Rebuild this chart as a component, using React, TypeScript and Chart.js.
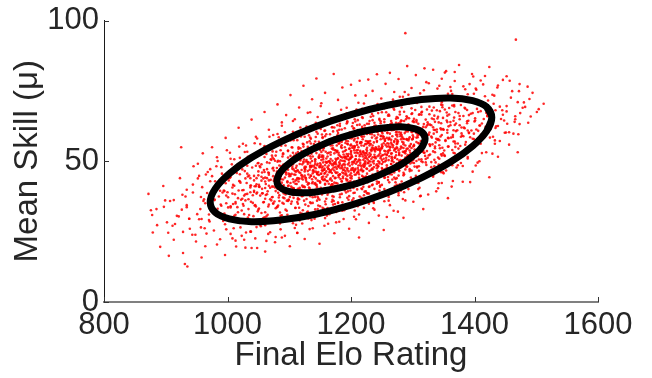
import React, { useEffect, useRef } from "react";
import { Chart, registerables } from "chart.js";

Chart.register(...registerables);

// ---- Data ----
const xTickValues = [800, 1000, 1200, 1400, 1600];
const yTickValues = [0, 50, 100];
const xAxisTitle = "Final Elo Rating";
const yAxisTitle = "Mean Skill (\u03bc)";

// Player samples: [final Elo rating, mean skill μ], part 1
const playerSamplesA: [number, number][] = [
  [886,27.3],[897,33.8],
  [904,24.6],[913,36.2],[921,30.4],
  [927,38.1],[931,13.5],[938,29.6],[944,41.7],[948,23.9],
  [951,31.2],[954,44.8],[957,26.5],[961,35.9],[964,19.8],[967,38.7],[970,29.1],[972,47.2],[974,33.4],
  [976,36.8],[978,25.4],[980,42.9],[982,31.7],[984,50.1],[986,37.5],[988,22.3],[990,34.2],[991,45.6],[993,28.8],[995,39.4],[996,16.7],[998,35.1],[999,53.9],
  [1001,37.2],[1002,29.4],[1004,44.1],[1005,33.6],[1007,48.9],[1008,38.5],[1010,26.2],[1011,41.3],[1013,35.0],[1014,19.7],[1015,45.8],[1017,31.9],[1018,39.6],[1019,55.2],[1020,28.1],[1021,42.4],[1022,36.3],[1023,23.5],[1024,47.1],[1025,34.8],
  [1026,39.8],[1027,31.2],[1028,46.5],[1029,36.1],[1030,24.7],[1031,42.3],[1032,38.4],[1033,51.6],[1034,33.0],[1035,44.9],[1036,28.3],[1037,40.7],[1038,35.6],[1039,19.2],[1040,47.8],[1041,37.9],[1042,30.5],[1043,43.2],[1044,56.4],[1045,34.4],[1046,41.1],[1047,26.6],[1048,38.9],[1049,49.3],[1049,32.2],[1050,45.0],[1027,22.1],[1043,39.5],
  [1051,41.6],[1051,33.2],[1052,48.3],[1053,37.8],[1054,26.9],[1055,44.5],[1056,40.2],[1057,53.1],[1058,35.4],[1059,46.9],[1060,30.1],[1061,42.8],[1062,38.0],[1063,21.7],[1064,49.6],[1065,39.3],[1066,33.9],[1067,45.2],[1068,58.7],[1069,36.5],[1070,43.4],[1071,28.4],[1072,41.0],[1073,51.3],[1074,35.0],[1074,47.7],[1052,40.9],[1055,31.6],[1058,43.9],[1061,36.7],[1064,44.0],[1066,24.2],[1069,40.6],[1071,50.5],[1073,37.3],[1060,55.4],[1067,34.6],[1056,46.0],
  [1075,43.1],[1076,35.7],[1077,50.2],[1078,39.4],[1079,28.6],[1080,46.3],[1081,42.0],[1082,55.8],[1083,37.1],[1084,48.5],[1085,31.8],[1086,44.6],[1087,40.3],[1088,22.9],[1089,51.7],[1090,41.2],[1091,34.9],[1092,47.4],[1093,60.3],[1094,38.2],[1095,45.3],[1096,29.7],[1097,42.9],[1098,53.6],[1099,36.4],[1099,49.0],[1076,43.8],[1078,33.3],[1080,45.7],[1082,38.8],[1084,44.9],[1086,25.8],[1088,42.4],[1090,52.8],[1092,39.0],[1094,57.2],[1096,36.0],[1098,47.9],[1077,40.7],[1081,49.8],[1085,41.5],[1089,35.2],[1093,44.2],[1097,31.0],[1079,53.4],[1083,43.7],[1087,46.8],[1091,38.6],
  [1100,44.7],[1101,37.3],[1102,51.9],[1103,41.0],[1104,30.2],[1105,48.0],[1106,43.6],[1107,57.5],[1108,38.7],[1109,50.1],[1110,33.4],[1111,46.3],[1112,41.9],[1113,24.5],[1114,53.3],[1115,42.8],[1116,36.5],[1117,49.0],[1118,62.0],[1119,39.8],[1120,46.9],[1121,31.3],[1122,44.5],[1123,55.2],[1124,38.0],[1124,50.6],[1101,45.4],[1103,34.9],[1105,47.3],[1107,40.4],[1109,46.5],[1111,27.4],[1113,44.0],[1115,54.4],[1117,40.6],[1119,58.8],[1121,37.6],[1123,49.5],[1102,42.3],[1106,51.4],[1110,43.1],[1114,36.8],[1118,45.8],[1122,32.6],[1104,55.0],[1108,45.3],[1112,48.4],[1116,40.2],[1120,43.9],[1100,39.1],[1125,47.6],[1113,35.5],[1119,51.2],[1106,28.0],[1111,52.7],[1116,46.1],[1121,41.4],[1103,48.7],
  [1125,46.4],[1126,39.0],[1127,53.6],[1128,42.7],[1129,31.9],[1130,49.7],[1131,45.3],[1132,59.2],[1133,40.4],[1134,51.8],[1135,35.1],[1136,48.0],[1137,43.6],[1138,26.2],[1139,55.0],[1140,44.5],[1141,38.2],[1142,50.7],[1143,63.7],[1144,41.5],[1145,48.6],[1146,33.0],[1147,46.2],[1148,56.9],[1149,39.7],[1149,52.3],[1126,47.1],[1128,36.6],[1130,49.0],[1132,42.1],[1134,48.2],[1136,29.1],[1138,45.7],[1140,56.1],[1142,42.3],[1144,60.5],[1146,39.3],[1148,51.2],[1127,44.0],[1131,53.1],[1135,44.8],[1139,38.5],[1143,47.5],[1147,34.3],[1129,56.7],[1133,47.0],[1137,50.1],[1141,41.9],[1145,45.6],[1125,40.8],[1150,49.3],[1138,37.2],[1144,52.9],[1131,29.7],[1136,54.4],[1141,47.8],[1146,43.1],[1128,50.4],[1133,44.2],[1139,46.9],[1143,39.9],[1148,45.1],[1130,41.7],[1135,58.0],[1140,48.4],[1145,36.0],[1149,47.9],[1127,49.9],
  [1150,48.0],[1151,40.6],[1152,55.2],[1153,44.3],[1154,33.5],[1155,51.3],[1156,46.9],[1157,60.8],[1158,42.0],[1159,53.4],[1160,36.7],[1161,49.6],[1162,45.2],[1163,27.8],[1164,56.6],[1165,46.1],[1166,39.8],[1167,52.3],[1168,65.3],[1169,43.1],[1170,50.2],[1171,34.6],[1172,47.8],[1173,58.5],[1174,41.3],[1174,53.9],[1151,48.7],[1153,38.2],[1155,50.6],[1157,43.7],[1159,49.8],[1161,30.7],[1163,47.3],[1165,57.7],[1167,43.9],[1169,62.1],[1171,40.9],[1173,52.8],[1152,45.6],[1156,54.7],[1160,46.4],[1164,40.1],[1168,49.1],[1172,35.9],[1154,58.3],[1158,48.6],[1162,51.7],[1166,43.5],[1170,47.2],[1150,42.4],[1175,50.9],[1163,38.8],[1169,54.5],[1156,31.3],[1161,56.0],[1166,49.4],[1171,44.7],[1153,52.0],[1158,45.8],[1164,48.5],[1168,41.5],[1173,46.7],[1155,43.3],[1160,59.6],[1165,50.0],[1170,37.6],[1174,49.5],[1152,51.5],[1157,47.4],[1162,42.9],[1167,55.6],[1159,39.4],[1172,48.9],[1154,46.5],
  [1175,49.7],[1176,42.3],[1177,56.9],[1178,46.0],[1179,35.2],[1180,53.0],[1181,48.6],[1182,62.5],[1183,43.7],[1184,55.1],[1185,38.4],[1186,51.3],[1187,46.9],[1188,29.5],[1189,58.3],[1190,47.8],[1191,41.5],[1192,54.0],[1193,67.0],[1194,44.8],[1195,51.9],[1196,36.3],[1197,49.5],[1198,60.2],[1199,43.0],[1199,55.6],[1176,50.4],[1178,39.9],[1180,52.3],[1182,45.4],[1184,51.5],[1186,32.4],[1188,49.0],[1190,59.4],[1192,45.6],[1194,63.8],[1196,42.6],[1198,54.5],[1177,47.3],[1181,56.4],[1185,48.1],[1189,41.8],[1193,50.8],[1197,37.6],[1179,60.0],[1183,50.3],[1187,53.4],[1191,45.2],[1195,48.9],[1175,44.1],[1200,52.6],[1188,40.5],[1194,56.2],[1181,33.0],[1186,57.7],[1191,51.1],[1196,46.4],[1178,53.7],[1183,47.5],[1189,50.2],[1193,43.2],[1198,48.4],[1180,45.0],[1185,61.3],[1190,51.7],[1195,39.3],[1199,51.2],[1177,53.2],[1182,49.1],[1187,44.6],[1192,57.3],[1184,41.1],[1197,50.6],[1179,48.2],[1186,46.0],[1190,55.0],[1194,47.0],[1176,45.8],
  [1200,51.3],[1201,43.9],[1202,58.5],[1203,47.6],[1204,36.8],[1205,54.6],[1206,50.2],[1207,64.1],[1208,45.3],[1209,56.7],[1210,40.0],[1211,52.9],[1212,48.5],[1213,31.1],[1214,59.9],[1215,49.4],[1216,43.1],[1217,55.6],[1218,68.6],[1219,46.4],[1220,53.5],[1221,37.9],[1222,51.1],[1223,61.8],[1224,44.6],[1224,57.2],[1201,52.0],[1203,41.5],[1205,53.9],[1207,47.0],[1209,53.1],[1211,34.0],[1213,50.6],[1215,61.0],[1217,47.2],[1219,65.4],[1221,44.2],[1223,56.1],[1202,48.9],[1206,58.0],[1210,49.7],[1214,43.4],[1218,52.4],[1222,39.2],[1204,61.6],[1208,51.9],[1212,55.0],[1216,46.8],[1220,50.5],[1200,45.7],[1225,54.2],[1213,42.1],[1219,57.8],[1206,34.6],[1211,59.3],[1216,52.7],[1221,48.0],[1203,55.3],[1208,49.1],[1214,51.8],[1218,44.8],[1223,50.0],[1205,46.6],[1210,62.9],[1215,53.3],[1220,40.9],[1224,52.8],[1202,54.8],[1207,50.7],[1212,46.2],[1217,58.9],[1209,42.7],[1222,52.2],[1204,49.8],[1211,47.6],[1215,56.6],[1219,48.6],[1201,47.4],
  [1225,53.0],[1226,45.6],[1227,60.2],[1228,49.3],[1229,38.5],[1230,56.3],[1231,51.9],[1232,65.8],[1233,47.0],[1234,58.4],[1235,41.7],[1236,54.6],[1237,50.2],[1238,32.8],[1239,61.6],[1240,51.1],[1241,44.8],[1242,57.3],[1243,70.3],[1244,48.1],[1245,55.2],[1246,39.6],[1247,52.8],[1248,63.5],[1249,46.3],[1249,58.9],[1226,53.7],[1228,43.2],[1230,55.6],[1232,48.7],[1234,54.8],[1236,35.7],[1238,52.3],[1240,62.7],[1242,48.9],[1244,67.1],[1246,45.9],[1248,57.8],[1227,50.6],[1231,59.7],[1235,51.4],[1239,45.1],[1243,54.1],[1247,40.9],[1229,63.3],[1233,53.6],[1237,56.7],[1241,48.5],[1245,52.2],[1225,47.4],[1250,55.9],[1238,43.8],[1244,59.5],[1231,36.3],[1236,61.0],[1241,54.4],[1246,49.7],[1228,57.0],[1233,50.8],[1239,53.5],[1243,46.5],[1248,51.7],[1230,48.3],[1235,64.6],[1240,55.0],[1245,42.6],[1249,54.5],[1227,56.5],[1232,52.4],[1237,47.9],[1242,60.6],[1234,44.4],[1247,53.9],[1229,51.5],
  [1250,54.6],[1251,47.2],[1252,61.8],[1253,50.9],[1254,40.1],[1255,57.9],[1256,53.5],[1257,67.4],[1258,48.6],[1259,60.0],[1260,43.3],[1261,56.2],[1262,51.8],[1263,34.4],[1264,63.2],[1265,52.7],[1266,46.4],[1267,58.9],[1268,71.9],[1269,49.7],[1270,56.8],[1271,41.2],[1272,54.4],[1273,65.1],[1274,47.9],[1274,60.5],[1251,55.3],[1253,44.8],[1255,57.2],[1257,50.3],[1259,56.4],[1261,37.3],[1263,53.9],[1265,64.3],[1267,50.5],[1269,68.7],[1271,47.5],[1273,59.4],[1252,52.2],[1256,61.3],[1260,53.0],[1264,46.7],[1268,55.7],[1272,42.5],[1254,64.9],[1258,55.2],[1262,58.3],[1266,50.1],[1270,53.8],[1250,49.0],[1275,57.5],[1263,45.4],[1269,61.1],[1256,37.9],[1261,62.6],[1266,56.0],[1271,51.3],[1253,58.6],[1258,52.4],[1264,55.1],[1268,48.1],[1273,53.3],[1255,49.9],[1260,66.2],[1265,56.6],[1270,44.2],[1274,56.1],[1252,58.1],
  [1275,56.3],[1276,48.9],[1277,63.5],[1278,52.6],[1279,41.8],[1280,59.6],[1281,55.2],[1282,69.1],[1283,50.3],[1284,61.7],[1285,45.0],[1286,57.9],[1287,53.5],[1288,36.1],[1289,64.9],[1290,54.4],[1291,48.1],[1292,60.6],[1293,73.6],[1294,51.4],[1295,58.5],[1296,42.9],[1297,56.1],[1298,66.8],[1299,49.6],[1299,62.2],[1276,57.0],[1278,46.5],[1280,58.9],[1282,52.0],[1284,58.1],[1286,39.0],[1288,55.6],[1290,66.0],[1292,52.2],[1294,70.4],[1296,49.2],[1298,61.1],[1277,53.9],[1281,63.0],[1285,54.7],[1289,48.4],[1293,57.4],[1297,44.2],[1279,66.6],[1283,56.9],[1287,60.0],[1291,51.8],[1295,55.5],[1275,50.7],[1300,59.2],[1288,47.1],[1294,62.8],[1281,39.6],[1286,64.3],[1291,57.7],[1296,53.0],[1278,60.3],
  [1300,57.9],[1301,50.5],[1302,65.1],[1303,54.2],[1304,43.4],[1305,61.2],[1306,56.8],[1307,70.7],[1308,51.9],[1309,63.3],[1310,46.6],[1311,59.5],[1312,55.1],[1313,37.7],[1314,66.5],[1315,56.0],[1316,49.7],[1317,62.2],[1318,75.2],[1319,53.0],[1320,60.1],[1321,44.5],[1322,57.7],[1323,68.4],[1324,51.2],[1324,63.8],[1301,58.6],[1303,48.1],[1305,60.5],[1307,53.6],[1309,59.7],[1311,40.6],[1313,57.2],[1315,67.6],[1317,53.8],[1319,72.0],[1321,50.8],[1323,62.7],[1302,55.5],[1306,64.6],[1310,56.3],[1314,50.0],[1318,59.0],[1322,45.8],[1304,68.2],[1308,58.5],[1312,61.6],[1316,53.4],
  [1325,59.5],[1326,52.1],[1327,66.7],[1328,55.8],[1329,45.0],[1330,62.8],[1331,58.4],[1332,72.3],[1333,53.5],[1334,64.9],[1335,48.2],[1336,61.1],[1337,56.7],[1338,39.3],[1339,68.1],[1340,57.6],[1341,51.3],[1342,63.8],[1343,76.8],[1344,54.6],[1345,61.7],[1346,46.1],[1347,59.3],[1348,70.0],[1349,52.8],[1349,65.4],[1327,60.2],[1330,49.7],[1333,62.1],[1336,55.2],[1339,61.3],[1342,42.2],[1345,58.8],[1348,69.2],[1328,55.4],[1335,66.2],[1341,57.9],[1347,52.0],
  [1350,61.2],[1351,53.8],[1352,68.4],[1353,57.5],[1354,46.7],[1355,64.5],[1356,60.1],[1357,74.0],[1358,55.2],[1359,66.6],[1360,49.9],[1361,62.8],[1362,58.4],[1363,41.0],[1364,69.8],[1365,59.3],[1366,53.0],[1367,65.5],[1368,78.5],[1369,56.3],[1370,63.4],[1371,47.8],[1372,61.0],[1373,71.7],[1374,54.5],[1374,67.1],[1356,63.9],[1366,57.0],
  [1376,62.8],[1377,55.4],[1378,70.0],[1380,59.1],[1381,48.3],[1382,66.1],[1384,61.7],[1385,75.6],[1386,56.8],[1388,68.2],[1389,51.5],[1390,64.4],[1391,60.0],[1393,42.6],[1394,71.4],[1395,60.9],[1396,54.6],[1397,67.1],[1398,80.1],[1399,57.9],
  [1401,64.5],[1403,57.1],[1404,71.7],[1406,60.8],[1408,50.0],[1410,67.8],[1412,63.4],[1414,77.3],[1416,58.5],[1418,69.9],[1419,53.2],[1421,66.1],[1423,61.7],[1424,44.3],
  [1427,66.1],[1430,58.7],[1432,73.3],[1435,62.4],[1438,51.6],[1441,69.4],[1443,65.0],[1446,78.9],[1449,60.1],
  [1452,67.7],[1456,60.3],[1461,74.9],[1465,64.0],[1470,53.2],
  [1478,69.0],[1486,76.5],
  [1288,95.5],[1467,93.2],
];

// Player samples, part 2 (read band by band along the skill axis)
const playerSamplesB: [number, number][] = [
  [1212,50.1],[1155,49.6],[1288,51.3],[1070,50.7],[1227,49.4],[1192,51.6],[1261,50.4],[1123,49.9],[1343,50.9],[1179,51.1],[1205,49.5],[1104,50.3],[1239,51.5],[1142,49.8],[1310,50.6],[1020,51.2],[1274,49.3],[1167,50.8],[1219,51.7],[1085,50.0],[1252,49.7],[1196,50.5],[1295,51.4],[1134,49.5],[1368,50.2],[1160,51.0],[1231,49.9],[1113,51.6],[1208,50.7],[1050,49.4],[1266,51.1],[1186,50.2],[1321,49.6],[1148,51.3],[1244,50.0],[1099,49.8],[1202,51.5],[1280,50.4],[1172,49.3],[1005,50.9],[1257,51.2],[1130,49.7],[1335,50.5],[1189,51.4],[1223,49.5],[1075,50.8],[1290,51.0],[1163,49.9],[1215,50.3],[1138,51.7],[1378,49.4],[1118,50.6],[1248,51.1],[1181,49.6],[1306,50.1],[1060,51.5],[1235,49.8],[1199,50.9],[1271,51.3],[1152,50.4],[1405,49.5],[1108,51.2],[1229,50.0],[1040,50.7],
  [1188,52.4],[1289,53.7],[1113,51.9],[1232,54.1],[1266,52.8],[1152,53.3],[1351,52.1],[1209,53.9],[1063,52.6],[1310,54.0],[1243,51.8],[1177,53.5],[1278,52.2],[1098,53.8],[1221,52.9],[1388,53.1],[1140,54.2],[1255,52.5],[1200,53.6],[1320,51.9],[1164,53.0],[1429,52.7],[1130,54.1],[1227,52.3],[1284,53.4],[1078,52.0],[1261,53.9],[1193,52.6],[1336,53.2],[1148,51.8],[1238,54.0],[1028,53.3],[1303,52.4],[1215,53.7],[1273,52.1],[1120,53.5],[1368,52.8],[1171,54.2],[1250,52.0],[1206,53.0],[1295,53.8],[1090,52.5],[1219,53.3],[1258,52.2],[1155,53.9],[1412,52.9],[1182,51.9],[1323,53.6],[1136,52.7],[1234,54.1],[1046,52.3],[1278,53.1],[1196,52.6],[1306,53.4],[1108,52.0],[1247,53.7],[1346,52.5],[1167,53.2],[1224,51.8],[1211,54.0],[1288,52.8],[1073,53.5],
  [1226,47.3],[1092,48.8],[1189,46.9],[1307,48.1],[1146,49.1],[1250,47.6],[1032,48.4],[1203,47.0],[1121,48.9],[1280,47.8],[1167,46.8],[1364,48.6],[1073,47.4],[1237,49.2],[1180,48.0],[1107,47.1],[1322,48.7],[1153,47.7],[1265,49.0],[982,48.2],[1212,46.9],[1134,48.5],[1295,47.2],[1055,48.9],[1194,47.5],[1244,48.3],[1098,47.0],[1342,48.8],[1162,47.9],[1221,49.1],[1125,47.3],[1272,48.0],[1014,47.6],[1186,48.6],[1255,47.1],[1142,49.0],[1307,47.8],[1087,48.2],[1200,46.8],[1176,48.9],[1234,47.4],[1046,48.4],[1285,49.2],[1157,47.0],[1217,48.1],[1111,47.7],[1402,48.5],[1064,47.2],[1190,48.8],[1242,47.5],[1149,48.3],[1330,47.9],[1102,49.1],[1207,47.3],[1170,48.6],[1277,47.0],[1127,48.0],[1358,48.7],[1080,47.6],[1223,48.9],[1164,47.2],[1137,48.4],
  [1250,55.0],[1163,56.3],[1336,54.6],[1210,55.8],[1285,56.6],[1105,54.9],[1313,55.4],[1232,56.1],[1145,54.4],[1395,55.7],[1191,56.5],[1263,54.8],[1357,55.2],[1123,56.0],[1241,54.5],[1177,55.6],[1320,56.4],[1060,55.1],[1271,54.3],[1217,56.7],[1301,55.3],[1155,54.7],[1433,56.2],[1200,55.9],[1246,54.4],[1327,56.0],[1087,55.5],[1282,54.9],[1228,56.6],[1369,55.1],[1171,54.6],[1256,55.8],[1135,56.3],[1292,54.5],[1206,55.4],[1410,56.2],[1115,55.0],[1238,54.3],[1309,56.5],[1185,55.7],[1348,54.8],[1225,56.1],[1149,55.2],[1275,54.6],[1385,55.9],[1167,56.6],[1261,55.3],[1197,54.4],[1332,56.0],[1030,55.6],[1298,54.7],[1221,55.5],[1253,56.4],[1140,54.9],[1317,55.8],[1180,56.2],[1268,55.0],
  [1145,45.9],[1229,44.5],[1050,46.4],[1198,45.1],[1113,46.7],[1305,44.8],[1157,45.6],[1253,46.2],[1005,44.4],[1182,45.3],[1095,46.0],[1277,44.9],[1130,46.5],[1213,45.4],[975,44.7],[1167,46.3],[1240,45.0],[1067,45.8],[1321,44.3],[1138,46.6],[1206,45.2],[1033,44.6],[1175,46.1],[1104,45.5],[1260,44.4],[1153,46.8],[1350,45.7],[1082,44.8],[1191,46.4],[1120,45.1],[1285,45.9],[1160,44.5],[1060,46.2],[1235,45.3],[1135,44.9],[1220,46.6],[1020,45.4],[1180,44.3],[1270,46.0],[1099,45.6],[1201,44.7],[1143,46.3],[1333,45.0],[1075,46.7],[1169,45.8],[1247,44.6],[1110,45.2],[1295,46.5],[1043,44.8],[1211,46.1],[1151,45.5],[1225,44.4],[1087,46.0],[1188,45.7],[1258,46.4],[1125,44.9],[965,45.3],
  [1205,57.4],[1283,58.6],[1368,57.0],[1158,58.9],[1261,57.7],[1098,58.2],[1319,59.1],[1231,57.2],[1425,58.4],[1185,56.9],[1294,58.0],[1248,59.0],[1343,57.5],[1125,58.7],[1272,57.9],[1216,56.8],[1393,58.5],[1171,57.3],[1308,59.2],[1048,58.1],[1265,57.6],[1330,58.8],[1195,57.1],[1357,58.3],[1238,59.1],[1281,57.8],[1143,58.6],[1433,57.4],[1211,58.2],[1316,56.9],[1252,58.9],[1113,57.5],[1338,58.0],[1227,57.0],[1378,58.7],[1178,59.2],[1299,57.7],[1242,58.4],[1353,57.2],[1083,58.5],[1275,56.8],[1201,58.1],[1411,59.0],[1165,57.6],[1258,58.3],[1323,57.3],[1221,58.8],[1290,57.9],[1133,57.1],[1365,58.6],
  [1173,42.4],[1087,43.6],[1242,42.0],[1029,43.9],[1150,42.7],[1199,44.1],[1002,43.2],[1220,41.9],[1116,43.8],[1307,42.6],[1061,44.2],[1161,43.0],[1137,42.2],[1267,43.5],[972,42.9],[1187,44.0],[1097,42.5],[1235,43.3],[1047,41.8],[1153,43.7],[1282,42.8],[1077,44.1],[1178,42.1],[1127,43.4],[1347,42.3],[1019,43.0],[1206,41.9],[1143,43.9],[1107,42.6],[1255,44.2],[1055,43.1],[1164,42.0],[1299,43.6],[1084,42.7],[1192,43.8],[1131,42.3],[1037,44.0],[1227,42.5],[1112,43.4],[1149,42.9],[1272,43.7],[997,42.2],[1213,44.1],[1067,43.2],[1169,41.8],[1122,43.5],[1245,42.4],[952,43.9],[1185,42.8],[1158,43.3],
  [1281,60.1],[1191,59.6],[1334,61.2],[1236,60.7],[1411,59.4],[1151,61.5],[1299,60.3],[1263,59.8],[1366,61.0],[1106,60.5],[1318,59.3],[1219,61.6],[1451,60.2],[1251,59.9],[1346,61.3],[1171,60.6],[1275,59.5],[1389,60.9],[1205,61.7],[1306,60.0],[1081,59.7],[1356,61.1],[1243,60.4],[1326,59.4],[1131,60.8],[1426,61.4],[1226,59.7],[1289,60.6],[1181,61.2],[1379,59.9],[1259,60.2],[1313,61.5],[1198,60.0],[1471,59.6],[1266,61.0],[1339,60.4],[1153,59.5],[1301,61.3],[1231,60.7],[1399,59.8],[1211,61.1],[1273,60.3],
  [1114,40.2],[1199,39.6],[1037,41.3],[1167,40.8],[979,39.4],[1234,41.5],[1089,40.0],[1137,39.8],[1289,41.1],[1061,40.5],[1151,39.3],[1009,41.6],[1217,40.3],[1124,41.0],[934,39.9],[1179,40.6],[1099,41.4],[1261,39.5],[1051,40.9],[1144,41.7],[1309,40.1],[1024,39.7],[1189,41.2],[1107,40.4],[1224,39.3],[1074,41.0],[1132,40.7],[994,39.6],[1247,41.4],[1081,40.2],[1159,39.8],[1044,41.1],[1204,40.5],[1119,39.4],[1274,41.6],[959,40.8],[1174,40.0],[1067,41.3],[1141,39.5],[1229,40.9],[1091,41.5],[1157,40.3],
  [1263,62.2],[1346,63.5],[1178,62.8],[1300,64.1],[1383,62.0],[1226,63.3],[1438,62.5],[1280,63.9],[1128,62.3],[1328,63.0],[1248,64.2],[1408,62.7],[1203,63.6],[1310,61.9],[1473,63.2],[1158,64.0],[1358,62.4],[1273,63.7],[1321,62.1],[1193,63.4],[1388,64.2],[1238,62.6],[1293,63.1],[1088,63.8],[1368,62.9],[1258,61.8],[1428,63.5],[1218,62.2],[1336,64.0],[1276,62.6],[1453,63.3],[1173,62.0],[1306,63.9],
  [1142,37.3],[1057,38.6],[1217,37.0],[992,38.9],[1120,37.7],[1182,38.2],[932,37.5],[1157,39.1],[1092,36.9],[1262,38.4],[1027,37.8],[1130,39.0],[1072,37.2],[1204,38.7],[972,38.0],[1172,37.4],[1102,38.8],[1237,37.1],[1012,38.3],[1114,39.2],[1312,37.6],[1047,38.5],[1147,36.8],[1084,37.9],[1192,38.9],[957,37.3],[1162,38.1],[1107,37.0],[1227,38.6],[1037,39.0],[1134,37.6],[1064,38.3],[1277,37.9],
  [1321,64.8],[1236,66.1],[1401,65.3],[1281,64.5],[1446,66.5],[1186,65.0],[1356,66.2],[1301,64.4],[1146,65.7],[1376,64.9],[1491,65.9],[1261,66.6],[1331,65.2],[1211,64.6],[1421,66.0],[1291,65.5],[1106,64.3],[1391,66.4],[1246,64.7],[1341,65.8],[1466,64.9],[1276,65.4],[1311,66.7],[1176,65.1],[1366,64.4],
  [1074,35.0],[1149,36.3],[989,34.6],[1104,35.7],[1229,34.9],[1034,36.5],[1179,35.3],[934,34.4],[1124,36.0],[1059,35.5],[1284,36.6],[1009,34.8],[1099,36.2],[964,35.1],[1199,34.5],[1084,35.9],[1159,34.7],[899,36.1],[1134,35.4],[1044,34.3],[1254,35.8],[979,36.4],[1114,34.9],[1169,35.6],[1024,36.7],
  [1314,67.3],[1404,68.6],[1234,67.9],[1359,68.9],[1474,67.1],[1184,68.3],[1334,69.1],[1279,67.6],[1434,68.1],[1134,67.4],[1384,69.0],[1299,67.0],[1504,68.5],[1254,68.8],[1344,67.8],[1419,67.2],[1209,68.4],[1369,67.5],
  [1096,32.4],[1001,33.6],[1176,32.0],[1046,33.9],[926,32.8],[1131,34.1],[1236,33.3],[976,32.2],[1081,33.8],[876,32.6],[1156,33.1],[1026,34.2],[1206,32.5],[1061,31.9],[1116,33.5],[956,33.0],[1276,32.1],[1016,33.7],
  [1367,70.0],[1282,71.2],[1452,69.6],[1212,70.8],[1402,71.5],[1327,69.4],[1512,70.4],[1247,69.9],[1347,71.0],[1482,69.3],[1152,70.6],[1422,71.6],
  [1033,30.0],[1128,31.2],[938,29.6],[1088,30.8],[1208,29.4],[988,31.5],[1063,30.4],[878,30.9],[1158,29.8],[1013,31.0],[1258,30.2],[958,29.5],
  [1339,72.3],[1429,73.6],[1279,72.9],[1399,74.0],[1489,72.1],[1224,73.3],[1364,73.9],[1319,72.6],
  [1061,27.3],[971,28.6],[1121,27.9],[1016,29.0],[911,27.1],[1176,28.3],[1046,28.9],[996,27.6],
  [1362,75.0],[1437,76.2],[1287,74.6],[1402,75.8],[1472,74.9],
  [1038,25.0],[963,26.2],[1113,24.6],[998,25.8],[928,24.9],
  [1392,77.4],[1457,78.6],[1322,78.1],
  [1008,22.6],[943,23.9],[1078,23.1],
  [1417,80.3],[1352,81.5],
  [983,20.4],[1048,19.2],
];

// Player samples, part 3 (between and outside the contours, plus the dense core)
const playerSamplesC: [number, number][] = [
  [979,36.2],[984,33.1],[988,39.5],[992,42.3],[995,31.4],[998,37.8],[1002,44.1],[1005,34.0],[1008,40.7],[1011,30.6],[1014,47.2],[1017,36.9],[1020,42.8],[1023,32.5],[1026,49.0],[1029,38.3],[1032,45.6],[1035,30.9],[1038,41.4],[1041,35.2],[1044,51.7],[1047,44.0],[1050,32.8],[1053,47.9],[1056,38.6],[1059,53.1],[1062,41.9],[1065,31.0],[1068,49.4],[1071,36.1],[1074,44.7],[1077,55.3],[1080,33.7],[1000,39.0],[1027,28.9],[1043,39.1],[1058,29.8],[1066,46.0],[1072,52.0],[1013,35.5],
  [1082,50.2],[1086,53.9],[1090,48.7],[1094,55.6],[1098,51.3],[1102,57.4],[1106,53.0],[1110,50.8],[1114,58.9],[1118,54.6],[1122,56.2],[1126,60.3],[1130,55.1],[1134,58.4],[1138,61.6],[1142,57.0],[1146,59.8],[1150,62.3],[1154,58.5],[1158,60.9],[1162,63.8],[1166,59.6],[1170,62.1],[1174,64.7],[1178,60.8],[1182,63.3],[1186,65.5],[1190,61.7],[1194,64.2],[1198,66.0],[1202,62.4],[1206,64.9],[1210,67.1],[1214,63.0],[1218,65.6],[1222,62.8],[1226,67.9],[1230,64.3],[1234,66.8],[1238,63.7],[1242,68.6],[1246,65.1],[1250,67.4],[1254,63.9],[1258,69.0],[1262,66.2],[1266,63.6],[1270,68.3],[1274,65.7],[1278,70.1],[1282,64.4],[1286,67.6],[1290,70.6],[1294,65.3],[1298,68.8],[1302,63.9],[1306,71.0],[1310,66.5],[1314,69.3],[1318,63.2],
  [1082,34.3],[1086,30.6],[1090,37.1],[1094,32.8],[1098,35.9],[1102,30.2],[1106,38.0],[1110,33.5],[1114,36.4],[1118,31.7],[1122,37.8],[1126,34.6],[1130,32.1],[1134,38.3],[1138,35.2],[1142,32.9],[1146,37.4],[1150,34.0],[1154,38.9],[1158,35.7],[1162,33.4],[1166,39.1],[1170,36.3],[1174,34.8],[1178,40.0],[1182,37.2],[1186,35.4],[1190,39.6],[1194,37.0],[1198,40.6],[1202,36.1],[1206,38.8],[1210,41.3],[1214,37.5],[1218,40.1],[1222,42.4],[1226,38.6],[1230,41.0],[1234,43.5],[1238,40.2],[1242,42.8],[1246,45.0],[1250,41.6],[1254,44.1],[1258,46.2],[1262,42.5],[1266,45.3],[1270,47.6],[1274,44.0],[1278,46.8],[1282,49.1],[1286,45.4],[1290,48.0],[1294,50.3],[1298,46.7],[1302,49.4],[1306,51.8],[1310,48.2],[1314,50.7],[1318,53.0],
  [1322,57.5],[1325,63.1],[1328,52.4],[1331,68.0],[1334,59.8],[1337,49.6],[1340,65.2],[1343,55.7],[1346,70.1],[1349,61.4],[1352,51.9],[1355,67.3],[1358,58.2],[1361,63.9],[1364,54.0],[1367,69.5],[1370,60.7],[1373,56.3],[1376,66.1],[1379,62.0],[1382,58.9],[1385,68.7],[1388,63.5],[1391,60.2],[1394,66.9],[1397,58.0],[1400,64.1],[1403,61.3],[1406,67.5],[1409,62.7],[1412,59.6],[1415,65.0],[1418,62.2],[1421,66.4],[1424,63.7],
  [952,49.1],[960,52.8],[968,46.2],[975,55.0],[983,51.4],[990,47.9],[997,58.3],[1004,53.0],[1011,50.7],[1018,61.9],[1025,56.2],[1032,53.4],[1039,64.8],[1046,58.7],[1053,56.1],[1060,67.5],[1067,61.2],[1074,59.3],[1081,70.2],[1088,62.6],[1095,66.4],[1102,73.5],[1109,64.9],[1116,69.1],[1123,76.8],[1130,67.2],[1137,72.0],[1144,79.4],[1151,69.6],[1158,74.3],[1165,66.9],[1172,81.0],[1179,71.8],[1186,76.2],[1193,69.0],[1200,77.2],[1207,73.4],[1214,78.6],[1221,70.5],[1228,79.0],[1235,75.0],[1242,80.9],[1249,72.3],[1256,77.5],[1263,81.4],[1270,74.6],[1277,79.2],[1284,72.9],[1291,83.8],[1298,76.0],[1305,80.6],[1312,74.1],[1319,83.0],[1326,77.7],[1333,82.5],[1340,75.8],[1347,79.3],[1354,82.0],[1361,76.4],[1368,81.7],
  [1375,84.2],[1382,76.6],[1389,73.8],[1396,81.0],[1403,75.4],[1410,78.7],[1417,73.1],[1424,83.5],[1431,70.4],[1438,76.9],[1445,68.1],[1452,80.2],[1459,72.6],[1466,66.0],[1473,77.4],[1480,70.9],[1487,63.7],[1494,74.3],[1501,67.5],[1434,61.8],[1441,57.2],[1448,64.5],[1456,55.9],[1463,59.8],[1470,71.0],
  [1005,24.2],[1013,21.8],[1021,26.5],[1029,19.3],[1037,25.0],[1045,22.6],[1053,27.4],[1061,17.9],[1069,24.8],[1077,21.2],[1085,27.9],[1093,23.5],[1101,19.8],[1109,26.3],[1117,29.0],[1125,22.4],[1133,25.9],[1141,29.6],[1149,20.7],[1157,27.1],[1165,31.2],[1173,24.4],[1181,28.5],[1189,32.6],[1197,26.0],[1205,30.3],[1213,22.9],[1221,33.5],[1229,28.1],[1237,35.2],[1245,30.7],[1253,25.6],[1261,36.0],[1269,32.4],[1277,38.7],[1285,29.9],[1293,40.1],[1301,35.6],[1309,42.3],[1317,33.0],[1325,38.2],[1333,44.5],[1341,40.4],[1349,46.1],[1357,36.9],[1365,43.0],[1373,48.6],[1381,42.7],[1389,51.0],[1397,46.3],
  [872,38.4],[879,24.7],[885,33.0],[891,19.6],[896,41.2],[902,28.3],[907,35.9],[913,22.1],[918,30.6],[923,44.0],[928,17.4],[934,33.7],[939,26.0],[944,38.9],[949,21.5],[954,29.4],[958,15.8],[962,36.5],[966,24.3],[970,31.1],[945,48.2],[935,12.6],[915,27.7],[905,16.4],[925,55.0],
  [1090,43.5],[1094,46.0],[1098,41.2],[1102,44.8],[1106,48.9],[1110,42.0],[1114,46.7],[1118,50.3],[1122,40.9],[1126,44.2],[1130,52.1],[1134,47.8],[1138,42.6],[1142,50.5],[1146,45.3],[1150,54.0],[1154,48.1],[1158,41.7],[1162,52.8],[1166,46.4],[1170,55.6],[1174,44.0],[1178,50.9],[1182,57.0],[1186,47.5],[1190,53.6],[1194,43.4],[1198,58.2],[1202,49.7],[1206,55.1],[1210,45.9],[1214,52.3],[1218,58.7],[1222,48.3],[1226,54.8],[1230,46.6],[1234,59.6],[1238,51.4],[1242,56.9],[1246,49.2],[1250,60.4],[1254,53.7],[1258,47.8],[1262,58.0],[1266,51.6],[1270,61.2],[1274,55.0],[1278,50.1],[1282,59.3],[1286,53.2],[1290,57.7],[1294,52.0],[1298,60.5],[1302,55.8],[1306,58.4],[1310,54.6],[1095,47.3],[1105,40.6],[1115,43.9],[1125,48.0],[1135,51.0],[1145,40.8],[1155,44.6],[1165,50.0],[1175,53.9],[1185,42.9],[1195,51.8],[1205,46.3],[1215,56.4],[1225,51.1],[1235,47.2],[1245,54.2],[1255,57.3],[1265,49.0],[1275,58.8],[1285,56.0],[1295,55.2],[1160,49.5],[1180,45.1],[1200,53.3],[1220,44.5],[1240,58.1],[1260,53.5],[1280,54.4],[1170,41.8],[1190,49.9],[1210,56.9],[1230,52.9],[1250,50.4],[1140,46.3],[1120,44.9],[1270,57.2],[1300,58.0],[1215,48.6],[1195,56.0],[1175,47.9],[1155,51.9],[1235,55.6],[1255,60.9],[1205,42.8],[1185,54.7],
];

// Contour lines (Elo, μ), traced around the ellipses in the picture
const innerContour: [number, number][] = [
  [1316,55.4],[1320,58.0],[1316,60.1],[1304,61.5],[1285,62.2],[1260,62.0],[1231,61.1],[1200,59.5],
  [1169,57.3],[1140,54.5],[1115,51.6],[1096,48.5],[1084,45.6],[1080,43.0],[1084,40.9],[1096,39.5],
  [1115,38.8],[1140,39.0],[1169,40.0],[1200,41.5],[1231,43.8],[1260,46.5],[1285,49.4],[1304,52.5],
  [1316,55.4],[1320,58.0],[1316,60.1],
];
const outerContour: [number, number][] = [
  [1420,60.8],[1428,65.5],[1420,69.2],[1397,71.5],[1361,72.5],[1314,71.9],[1259,69.9],[1200,66.6],
  [1141,62.2],[1086,56.9],[1039,51.3],[1003,45.6],[980,40.2],[972,35.5],[980,31.8],[1003,29.5],
  [1039,28.5],[1086,29.1],[1141,31.1],[1200,34.4],[1259,38.8],[1314,44.1],[1361,49.7],[1397,55.4],
  [1420,60.8],[1428,65.5],[1420,69.2],
];

const FONT = "'Liberation Sans', Arial, Helvetica, sans-serif";
const TEXT = "#262626";

const toPoints = (arr: [number, number][]) => arr.map(([x, y]) => ({ x, y }));

const inwardTicks = {
  id: "inwardTicks",
  afterDatasetsDraw(chart: any) {
    const { ctx, chartArea, scales } = chart;
    ctx.save();
    ctx.strokeStyle = "#333";
    ctx.lineWidth = 1;
    xTickValues.forEach((v) => {
      const px = Math.round(scales.x.getPixelForValue(v)) + 0.5;
      ctx.beginPath();
      ctx.moveTo(px, chartArea.bottom);
      ctx.lineTo(px, chartArea.bottom - 5);
      ctx.stroke();
    });
    yTickValues.forEach((v) => {
      const py = Math.round(scales.y.getPixelForValue(v)) + 0.5;
      ctx.beginPath();
      ctx.moveTo(chartArea.left, py);
      ctx.lineTo(chartArea.left + 5, py);
      ctx.stroke();
    });
    ctx.restore();
  },
};

export default function App() {
  const canvasRef = useRef<HTMLCanvasElement | null>(null);

  useEffect(() => {
    const canvas = canvasRef.current;
    if (!canvas) return;
    const contourStyle = {
      showLine: true,
      borderColor: "#000",
      borderWidth: 7,
      tension: 0.4,
      pointRadius: 0,
      borderCapStyle: "round",
      borderJoinStyle: "round",
      fill: false,
      order: 0,
    };
    const chart = new Chart(canvas, {
      type: "scatter",
      data: {
        datasets: [
          { label: "inner", data: toPoints(innerContour), ...contourStyle } as any,
          { label: "outer", data: toPoints(outerContour), ...contourStyle } as any,
          {
            label: "players",
            data: toPoints([...playerSamplesA, ...playerSamplesB, ...playerSamplesC]),
            pointRadius: 1.3,
            pointBorderWidth: 0,
            pointBackgroundColor: "rgba(255,0,0,0.85)",
            pointHoverRadius: 0,
            showLine: false,
            order: 1,
          } as any,
        ],
      },
      options: {
        responsive: false,
        animation: false,
        events: [],
        layout: { padding: { top: 16, right: 54, left: 0, bottom: 0 } },
        plugins: { legend: { display: false }, tooltip: { enabled: false } },
        scales: {
          x: {
            type: "linear",
            min: 800,
            max: 1600,
            afterFit: (s: any) => { s.height = 76; },
            afterBuildTicks: (s: any) => { s.ticks = xTickValues.map((v) => ({ value: v })); },
            grid: { display: false, drawTicks: false },
            border: { display: true, color: "#808080", width: 2 },
            ticks: { color: TEXT, padding: 8, font: { family: FONT, size: 31, lineHeight: 1 }, maxRotation: 0, callback: (v: any) => String(v) },
            title: { display: true, text: xAxisTitle, color: TEXT, font: { family: FONT, size: 33, lineHeight: 1.2 }, padding: { top: 0, bottom: 2 } },
          },
          y: {
            type: "linear",
            min: 0,
            max: 100,
            afterFit: (s: any) => { s.width = 104; },
            afterBuildTicks: (s: any) => { s.ticks = yTickValues.map((v) => ({ value: v })); },
            grid: { display: false, drawTicks: false },
            border: { display: true, color: "#1a1a1a", width: 1 },
            ticks: { color: TEXT, padding: 5, font: { family: FONT, size: 31, lineHeight: 1 }, callback: (v: any) => String(v) },
            title: { display: true, text: yAxisTitle, color: TEXT, font: { family: FONT, size: 33, lineHeight: 1.2 }, padding: { top: 8, bottom: 0 } },
          },
        },
      },
      plugins: [inwardTicks],
    });
    return () => chart.destroy();
  }, []);

  return (
    <div style={{ position: "absolute", left: 0, top: 0, width: 652, height: 378, background: "#fff" }}>
      <canvas ref={canvasRef} width={652} height={378} style={{ display: "block" }} />
    </div>
  );
}
